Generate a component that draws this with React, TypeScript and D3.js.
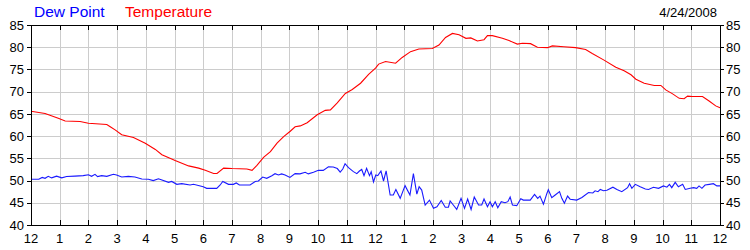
import React from "react";
import * as d3 from "d3";

// hours since midnight (0..24) and readings
const tempHours = [0, 0.49, 0.95, 1.19, 1.71, 2.0, 2.64, 2.76, 2.93, 3.16, 3.57, 3.98, 4.33, 4.56, 5.02, 5.49, 5.84, 6.07, 6.36, 6.48, 6.71, 7.0, 7.52, 7.7, 7.87, 8.1, 8.34, 8.57, 8.8, 9.03, 9.2, 9.38, 9.62, 9.97, 10.25, 10.43, 10.66, 10.95, 11.19, 11.48, 11.76, 12.0, 12.11, 12.35, 12.7, 12.93, 13.22, 13.51, 13.98, 14.21, 14.44, 14.68, 14.91, 15.15, 15.32, 15.55, 15.78, 15.9, 16.07, 16.42, 16.65, 16.94, 17.12, 17.4, 17.64, 17.99, 18.16, 18.56, 18.97, 19.32, 19.55, 19.96, 20.37, 20.66, 20.9, 21.07, 21.36, 21.71, 21.94, 22.11, 22.35, 22.58, 22.75, 22.87, 23.04, 23.39, 23.62, 23.85, 24.0];
const tempValues = [65.6, 65.1, 64.0, 63.4, 63.3, 62.9, 62.6, 62.1, 61.4, 60.3, 59.7, 58.4, 57.0, 55.8, 54.5, 53.3, 52.8, 52.3, 51.6, 51.6, 52.8, 52.7, 52.6, 52.3, 53.4, 55.2, 56.5, 58.4, 59.9, 61.1, 62.1, 62.3, 63.0, 64.8, 65.8, 65.9, 67.4, 69.6, 70.5, 71.9, 73.9, 75.3, 76.2, 76.8, 76.4, 77.7, 79.0, 79.6, 79.7, 80.5, 82.2, 83.1, 82.8, 82.0, 82.1, 81.4, 81.7, 82.6, 82.6, 82.0, 81.5, 80.7, 80.9, 80.8, 80.0, 79.9, 80.3, 80.1, 79.9, 79.5, 78.6, 77.1, 75.5, 74.7, 73.8, 72.8, 71.9, 71.4, 71.4, 70.4, 69.5, 68.5, 68.4, 69.0, 68.9, 68.9, 67.9, 66.8, 66.4];

const dewHours = [0, 0.27, 0.39, 0.49, 0.6, 0.72, 0.89, 1.07, 1.24, 1.53, 1.82, 2.0, 2.11, 2.23, 2.32, 2.46, 2.64, 2.87, 2.98, 3.16, 3.39, 3.62, 3.86, 4.09, 4.26, 4.44, 4.79, 4.9, 5.08, 5.25, 5.54, 5.66, 5.83, 6.0, 6.12, 6.47, 6.59, 6.68, 6.88, 7.05, 7.15, 7.26, 7.63, 7.81, 7.92, 8.07, 8.21, 8.39, 8.5, 8.62, 8.73, 8.85, 9.02, 9.2, 9.37, 9.55, 9.66, 9.84, 10.01, 10.18, 10.36, 10.53, 10.67, 10.77, 10.86, 10.94, 11.06, 11.23, 11.35, 11.44, 11.52, 11.6, 11.69, 11.79, 11.85, 11.93, 12.01, 12.08, 12.19, 12.28, 12.37, 12.51, 12.62, 12.71, 12.86, 13.03, 13.2, 13.32, 13.44, 13.52, 13.61, 13.73, 13.88, 14.02, 14.14, 14.29, 14.43, 14.54, 14.6, 14.71, 14.83, 14.98, 15.1, 15.21, 15.33, 15.44, 15.59, 15.7, 15.78, 15.9, 15.99, 16.07, 16.17, 16.26, 16.38, 16.51, 16.61, 16.69, 16.77, 16.92, 17.06, 17.15, 17.39, 17.54, 17.65, 17.73, 17.85, 17.97, 18.02, 18.14, 18.26, 18.41, 18.49, 18.58, 18.69, 18.78, 19.01, 19.19, 19.42, 19.57, 19.65, 19.75, 19.83, 19.94, 20.06, 20.27, 20.41, 20.58, 20.78, 20.85, 20.93, 21.05, 21.22, 21.4, 21.51, 21.68, 21.86, 22.03, 22.15, 22.24, 22.32, 22.44, 22.55, 22.7, 22.79, 22.96, 23.08, 23.19, 23.27, 23.37, 23.48, 23.63, 23.77, 23.89, 24.0];
const dewValues = [50.3, 50.3, 50.7, 50.5, 50.95, 50.6, 51.0, 50.6, 50.9, 51.0, 51.1, 51.3, 50.95, 51.4, 50.9, 51.1, 50.95, 51.4, 51.25, 50.8, 50.95, 50.8, 50.35, 50.3, 50.0, 50.4, 49.6, 49.8, 49.15, 49.3, 49.0, 49.15, 48.9, 48.6, 48.25, 48.25, 49.0, 49.8, 49.15, 49.15, 49.45, 49.0, 49.0, 49.8, 49.9, 50.8, 50.5, 51.1, 51.55, 51.25, 51.5, 51.25, 50.7, 51.55, 51.5, 51.85, 51.5, 51.85, 52.3, 52.3, 53.1, 53.05, 52.7, 51.9, 52.6, 53.8, 52.9, 52.0, 51.55, 52.15, 52.5, 51.1, 52.75, 51.1, 52.0, 49.7, 51.25, 51.1, 52.15, 49.9, 52.2, 46.75, 46.75, 48.0, 46.0, 48.85, 46.75, 51.55, 46.95, 48.6, 47.85, 44.5, 45.6, 43.75, 44.1, 45.5, 44.0, 44.0, 45.4, 44.5, 43.5, 46.0, 43.75, 45.85, 43.5, 46.3, 44.5, 44.5, 45.85, 44.1, 45.25, 44.1, 45.25, 43.9, 45.25, 45.0, 45.25, 46.3, 44.5, 44.35, 45.9, 45.6, 45.6, 46.9, 46.0, 46.5, 44.7, 47.1, 47.95, 46.15, 46.75, 47.5, 46.0, 44.9, 46.5, 45.8, 45.6, 46.2, 47.3, 47.2, 47.7, 47.5, 48.0, 47.7, 47.8, 48.5, 48.0, 47.5, 48.4, 49.3, 48.25, 49.15, 48.6, 48.1, 48.0, 48.5, 48.25, 48.8, 48.5, 49.15, 48.4, 49.6, 48.6, 49.15, 48.0, 48.25, 48.4, 48.25, 48.8, 48.25, 49.0, 49.15, 49.3, 48.8, 48.8];

const hourLabels = ["12", "1", "2", "3", "4", "5", "6", "7", "8", "9", "10", "11", "12", "1", "2", "3", "4", "5", "6", "7", "8", "9", "10", "11", "12"];
const yTicks = [40, 45, 50, 55, 60, 65, 70, 75, 80, 85];
const dateLabel = "4/24/2008";
const legendNames = ["Dew Point", "Temperature"];

const W = 750, H = 250;
const L = 31, R = 720, T = 25, B = 225;
const FONT = "Arial, 'Liberation Sans', sans-serif";

export default function App() {
  const x = d3.scaleLinear().domain([0, 24]).range([L, R]);
  const y = d3.scaleLinear().domain([40, 85]).range([B, T]);
  const hours = d3.range(0, 25);
  const line = d3.line<[number, number]>().x(d => x(d[0])).y(d => y(d[1]));
  const tempPath = line(tempHours.map((h, i) => [h, tempValues[i]]) as [number, number][]) || "";
  const dewPath = line(dewHours.map((h, i) => [h, dewValues[i]]) as [number, number][]) || "";
  const px = (v: number) => Math.round(v) + 0.5;

  return (
    <svg width={W} height={H} style={{ position: "absolute", left: 0, top: 0, display: "block", background: "#fff" }} fontFamily={FONT}>
      <rect x={0} y={0} width={W} height={H} fill="#fff" />
      {/* grid */}
      <g stroke="#cccccc" strokeWidth={1} shapeRendering="crispEdges">
        {hours.slice(1, -1).map(h => (
          <line key={"gx" + h} x1={px(x(h))} x2={px(x(h))} y1={T} y2={B} />
        ))}
        {yTicks.slice(1, -1).map(v => (
          <line key={"gy" + v} x1={L} x2={R} y1={px(y(v))} y2={px(y(v))} />
        ))}
      </g>
      {/* data lines */}
      <path d={dewPath} fill="none" stroke="#1a1aff" strokeWidth={1.1} />
      <path d={tempPath} fill="none" stroke="#ff0000" strokeWidth={1.1} />
      {/* frame and ticks */}
      <g stroke="#000" strokeWidth={1} shapeRendering="crispEdges">
        <rect x={px(L)} y={px(T)} width={Math.round(R) - Math.round(L)} height={Math.round(B) - Math.round(T)} fill="none" />
        {hours.map(h => (
          <g key={"t" + h}>
            <line x1={px(x(h))} x2={px(x(h))} y1={T} y2={T + 5} />
            <line x1={px(x(h))} x2={px(x(h))} y1={B} y2={B - 5} />
          </g>
        ))}
        {yTicks.map(v => (
          <g key={"yt" + v}>
            <line x1={L - 4} x2={L} y1={px(y(v))} y2={px(y(v))} />
            <line x1={R} x2={R + 4} y1={px(y(v))} y2={px(y(v))} />
          </g>
        ))}
      </g>
      {/* y labels */}
      <g fontSize={13} fill="#000">
        {yTicks.map(v => (
          <g key={"yl" + v}>
            <text x={L - 7} y={y(v)} dy="0.36em" textAnchor="end">{v}</text>
            <text x={R + 6} y={y(v)} dy="0.36em" textAnchor="start">{v}</text>
          </g>
        ))}
        {hours.map(h => (
          <text key={"xl" + h} x={x(h)} y={243} textAnchor="middle">{hourLabels[h]}</text>
        ))}
        <text x={717} y={17} textAnchor="end">{dateLabel}</text>
      </g>
      {/* legend */}
      <g fontSize={15.5}>
        <text x={34} y={17} fill="#0000ff">{legendNames[0]}</text>
        <text x={125} y={17} fill="#ff0000">{legendNames[1]}</text>
      </g>
    </svg>
  );
}
